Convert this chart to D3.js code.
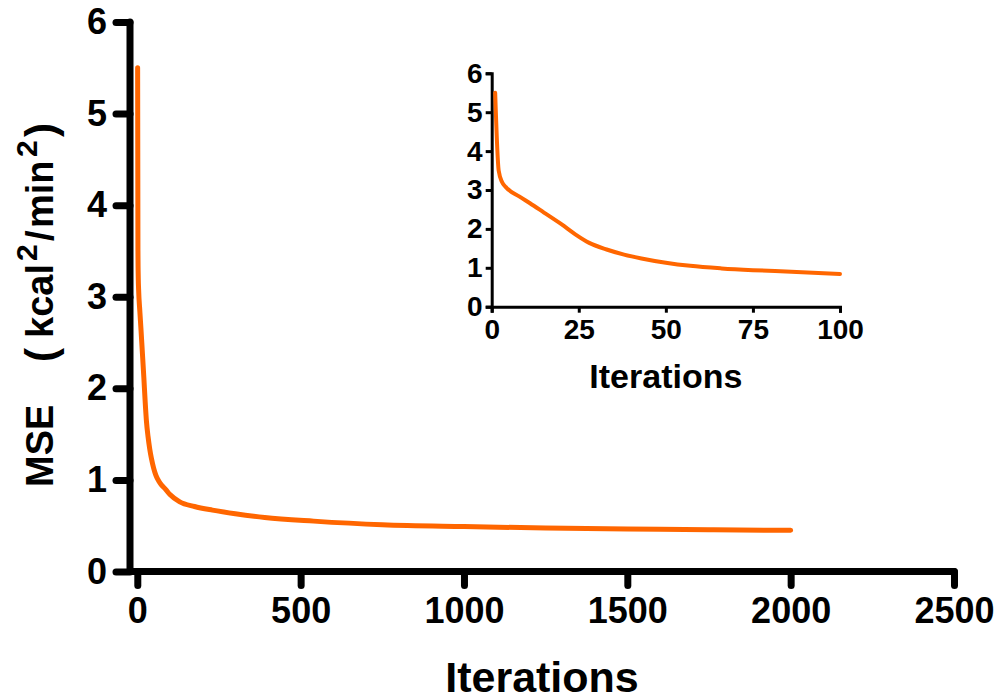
<!DOCTYPE html>
<html>
<head>
<meta charset="utf-8">
<script src="https://cdn.jsdelivr.net/npm/d3@7/dist/d3.min.js"></script>
<style>
  html, body { margin: 0; padding: 0; background: #fff; }
  svg { display: block; }
  text { font-family: "Liberation Sans", Arial, Helvetica, sans-serif; font-weight: bold; fill: #000; }
</style>
</head>
<body>
<svg id="chart" width="1003" height="700"></svg>
<script>
// ---- data ----
const iterations = [1, 2, 3, 4, 8, 11, 15, 20, 24, 28, 33, 38, 43, 50, 57, 66, 75, 86, 100,
                    130, 175, 230, 300, 390, 540, 750, 1000, 1250, 1500, 1750, 2000];
const mse = [5.5, 3.5, 3.2, 3.08, 2.83, 2.66, 2.42, 2.12, 1.86, 1.64, 1.47, 1.34, 1.24, 1.13, 1.05, 0.985, 0.94, 0.90, 0.84,
             0.76, 0.71, 0.67, 0.63, 0.59, 0.55, 0.51, 0.49, 0.475, 0.465, 0.455, 0.45];
const mainXTicks = [0, 500, 1000, 1500, 2000, 2500];
const mainYTicks = [0, 1, 2, 3, 4, 5, 6];
const insetXTicks = [0, 25, 50, 75, 100];
const insetYTicks = [0, 1, 2, 3, 4, 5, 6];
const xLabel = "Iterations";
const yLabelParts = ["MSE", "(", "kcal", "2", "/", "min", "2", ")"];
const lineColor = "#FF6600";

const points = iterations.map((x, i) => ({ x, y: mse[i] }));
const insetPoints = points.filter(d => d.x <= 100);

const svg = d3.select("#chart");

// ---- main chart ----
const mx = d3.scaleLinear().domain([0, 2500]).range([137.3, 954]);
const my = d3.scaleLinear().domain([0, 6]).range([571.5, 22]);
const axisX0 = 130; // y-axis line position (offset left of x=0)

const main = svg.append("g");

// y axis
const yAx = main.append("g").attr("transform", `translate(${axisX0},0)`)
  .call(d3.axisLeft(my).tickValues(mainYTicks).tickSize(14).tickSizeOuter(0).tickPadding(9).tickFormat(d3.format("d")));
yAx.select(".domain").remove();
yAx.selectAll(".tick line").attr("stroke", "#000").attr("stroke-width", 7).attr("stroke-linecap", "round");
yAx.selectAll(".tick text").attr("font-size", 36).style("font-weight", "bold").attr("fill", "#000");
main.append("line")
  .attr("x1", axisX0).attr("x2", axisX0).attr("y1", my(6)).attr("y2", my(0))
  .attr("stroke", "#000").attr("stroke-width", 7).attr("stroke-linecap", "round");

// x axis
const xAx = main.append("g").attr("transform", `translate(0,${my(0)})`)
  .call(d3.axisBottom(mx).tickValues(mainXTicks).tickSize(14).tickSizeOuter(0).tickPadding(12).tickFormat(d3.format("d")));
xAx.select(".domain").remove();
xAx.selectAll(".tick line").attr("stroke", "#000").attr("stroke-width", 7).attr("stroke-linecap", "round");
xAx.selectAll(".tick text").attr("font-size", 36).style("font-weight", "bold").attr("fill", "#000");
main.append("line")
  .attr("x1", axisX0).attr("x2", mx(2500)).attr("y1", my(0)).attr("y2", my(0))
  .attr("stroke", "#000").attr("stroke-width", 7).attr("stroke-linecap", "round");

main.append("path").datum(points)
  .attr("fill", "none").attr("stroke", lineColor).attr("stroke-width", 5)
  .attr("stroke-linecap", "round").attr("stroke-linejoin", "round")
  .attr("d", d3.line().x(d => mx(d.x)).y(d => my(d.y)).curve(d3.curveMonotoneX));

main.append("text")
  .attr("x", (axisX0 + mx(2500)) / 2).attr("y", 692)
  .attr("text-anchor", "middle").attr("font-size", 43)
  .text(xLabel);

// y label, laid out piece by piece along the rotated baseline
const partX = [3, 128, 152, 229, 249, 262, 333, 353];
const kind = ["txt", "paren", "txt", "sup", "txt", "txt", "sup", "paren"];
const yl = main.append("text")
  .attr("transform", "translate(53,490) rotate(-90)")
  .attr("font-size", 38);
yLabelParts.forEach((t, i) => {
  yl.append("tspan")
    .attr("x", partX[i])
    .attr("y", kind[i] === "sup" ? -16 : (kind[i] === "paren" ? 2 : 0))
    .attr("font-size", kind[i] === "sup" ? 30 : (kind[i] === "paren" ? 42 : 38))
    .text(t);
});

// ---- inset chart ----
const ix = d3.scaleLinear().domain([0, 100]).range([491.7, 840]);
const iy = d3.scaleLinear().domain([0, 6]).range([306.7, 73.3]);
const inset = svg.append("g");

const iyAx = inset.append("g").attr("transform", `translate(${ix(0)},0)`)
  .call(d3.axisLeft(iy).tickValues(insetYTicks).tickSize(6).tickSizeOuter(6).tickPadding(3).tickFormat(d3.format("d")));
const ixAx = inset.append("g").attr("transform", `translate(0,${iy(0)})`)
  .call(d3.axisBottom(ix).tickValues(insetXTicks).tickSize(6).tickSizeOuter(6).tickPadding(6).tickFormat(d3.format("d")));
[iyAx, ixAx].forEach(a => {
  a.select(".domain").attr("stroke", "#000").attr("stroke-width", 3);
  a.selectAll(".tick line").attr("stroke", "#000").attr("stroke-width", 3);
  a.selectAll(".tick text").attr("font-size", 28).style("font-weight", "bold").attr("fill", "#000");
});

inset.append("path").datum(insetPoints)
  .attr("fill", "none").attr("stroke", lineColor).attr("stroke-width", 4)
  .attr("stroke-linecap", "round").attr("stroke-linejoin", "round")
  .attr("d", d3.line().x(d => ix(d.x)).y(d => iy(d.y)).curve(d3.curveMonotoneX));

inset.append("text")
  .attr("x", (ix(0) + ix(100)) / 2).attr("y", 388)
  .attr("text-anchor", "middle").attr("font-size", 34)
  .text(xLabel);
</script>
</body>
</html>
